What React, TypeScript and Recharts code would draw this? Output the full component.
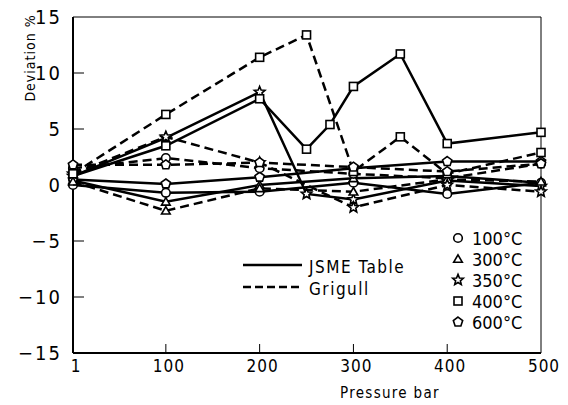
import React from 'react';
import {
  LineChart,
  Line,
  XAxis,
  YAxis,
  ReferenceLine,
  Customized,
} from 'recharts';

// pressure (bar) points per series
const P_STD = [1, 100, 200, 300, 400, 500];
const P_JSME_350 = [1, 100, 200, 250, 300, 400, 500];
const P_JSME_400 = [1, 100, 200, 250, 275, 300, 350, 400, 500];
const P_GRIG_400 = [1, 100, 200, 250, 300, 350, 400, 500];

// deviation % — JSME Table (solid)
const JSME_100 = [0.0, -0.7, -0.6, 0.2, -0.8, 0.2];
const JSME_300 = [0.4, -1.5, 0.0, 0.6, 0.8, 0.2];
const JSME_350 = [0.8, 4.2, 8.3, -0.8, -1.3, 0.4, -0.1];
const JSME_400 = [0.8, 3.5, 7.7, 3.2, 5.4, 8.8, 11.7, 3.7, 4.7];
const JSME_600 = [0.5, 0.1, 0.7, 1.5, 2.1, 2.1];

// deviation % — Grigull (dashed)
const GRIG_100 = [1.5, 2.4, 1.5, 1.0, 0.6, 1.9];
const GRIG_300 = [0.3, -2.3, -0.3, -0.6, 0.5, 0.3];
const GRIG_350 = [1.0, 4.3, 2.0, -2.0, 0.0, -0.6];
const GRIG_400 = [1.0, 6.3, 11.4, 13.4, 1.2, 4.3, 1.0, 2.9];
const GRIG_600 = [1.8, 1.8, 2.0, 1.6, 1.2, 1.9];

const X_TICKS = [1, 100, 200, 300, 400, 500];
const Y_TICKS = [-15, -10, -5, 0, 5, 10, 15];
const TEMPS = ['100°C', '300°C', '350°C', '400°C', '600°C'];
const KINDS = ['circle', 'triangle', 'star', 'square', 'pentagon'];

const FONT = "'Liberation Sans Narrow', 'DejaVu Sans Condensed', 'Roboto Condensed', Roboto, sans-serif";

const rows = (ps: number[], vs: number[]) => ps.map((p, i) => ({ p, v: vs[i] }));

const SERIES = [
  { id: 'j100', kind: 'circle', dashed: false, data: rows(P_STD, JSME_100) },
  { id: 'j300', kind: 'triangle', dashed: false, data: rows(P_STD, JSME_300) },
  { id: 'j350', kind: 'star', dashed: false, data: rows(P_JSME_350, JSME_350) },
  { id: 'j400', kind: 'square', dashed: false, data: rows(P_JSME_400, JSME_400) },
  { id: 'j600', kind: 'pentagon', dashed: false, data: rows(P_STD, JSME_600) },
  { id: 'g100', kind: 'circle', dashed: true, data: rows(P_STD, GRIG_100) },
  { id: 'g300', kind: 'triangle', dashed: true, data: rows(P_STD, GRIG_300) },
  { id: 'g350', kind: 'star', dashed: true, data: rows(P_STD, GRIG_350) },
  { id: 'g400', kind: 'square', dashed: true, data: rows(P_GRIG_400, GRIG_400) },
  { id: 'g600', kind: 'pentagon', dashed: true, data: rows(P_STD, GRIG_600) },
];

function polyPoints(cx: number, cy: number, n: number, r: number, inner?: number) {
  const pts: string[] = [];
  const count = inner ? n * 2 : n;
  for (let i = 0; i < count; i++) {
    const a = -Math.PI / 2 + (i * 2 * Math.PI) / count;
    const rr = inner && i % 2 === 1 ? inner : r;
    pts.push(`${cx + rr * Math.cos(a)},${cy + rr * Math.sin(a)}`);
  }
  return pts.join(' ');
}

function Marker({ kind, cx, cy }: { kind: string; cx: number; cy: number }) {
  const s = { fill: '#fff', stroke: '#000', strokeWidth: 1.6 };
  if (cx == null || cy == null) return null;
  switch (kind) {
    case 'circle':
      return <circle cx={cx} cy={cy} r={4.3} {...s} />;
    case 'triangle':
      return <polygon points={polyPoints(cx, cy + 0.8, 3, 5)} {...s} />;
    case 'star':
      return <polygon points={polyPoints(cx, cy, 5, 5.6, 2.5)} {...s} />;
    case 'square':
      return <rect x={cx - 4} y={cy - 4} width={8} height={8} {...s} />;
    default:
      return <polygon points={polyPoints(cx, cy, 5, 4.9)} {...s} />;
  }
}

const YTick = (props: any) => {
  const { x, y, payload } = props;
  const v = payload.value as number;
  const label = v < 0 ? `−${Math.abs(v)}` : `${v}`;
  return (
    <g>
      {Math.abs(v) !== 15 && <line x1={x} y1={y} x2={x + 11} y2={y} stroke="#000" strokeWidth={1} />}
      <text x={x - 11} y={y} dy={7} textAnchor="end" fontSize={20} fontFamily={FONT} letterSpacing={2} fill="#000">
        {label}
      </text>
    </g>
  );
};

const XTick = (props: any) => {
  const { x, y, payload } = props;
  const v = payload.value as number;
  return (
    <g>
      {v !== 1 && v !== 500 && <line x1={x} y1={y} x2={x} y2={y - 9} stroke="#000" strokeWidth={1} />}
      <text x={x + 3} y={y + 19} textAnchor="middle" fontSize={17} fontFamily={FONT} letterSpacing={1} fill="#000">
        {v}
      </text>
    </g>
  );
};

const Extras = () => (
  <g fontFamily={FONT} fill="#000">
    <text transform="translate(35,58) rotate(-90)" textAnchor="middle" fontSize={14} letterSpacing={1}>
      Deviation  %
    </text>
    <text x={340} y={398} fontSize={15} letterSpacing={1.3}>
      Pressure  bar
    </text>
    <line x1={243} y1={265} x2={302} y2={265} stroke="#000" strokeWidth={2.5} />
    <text x={309} y={273} fontSize={17} letterSpacing={1.5}>JSME Table</text>
    <line x1={243} y1={287} x2={302} y2={287} stroke="#000" strokeWidth={2.5} strokeDasharray="8 4" />
    <text x={309} y={295} fontSize={17} letterSpacing={1.5}>Grigull</text>
    {TEMPS.map((t, i) => (
      <g key={t}>
        <Marker kind={KINDS[i]} cx={458} cy={238 + i * 21} />
        <text x={472} y={245 + i * 21} fontSize={18}>{t}</text>
      </g>
    ))}
  </g>
);

export default function App() {
  return (
    <div style={{ position: 'absolute', left: 0, top: 0, width: 568, height: 405, background: '#fff' }}>
      <LineChart width={568} height={405} margin={{ top: 17, right: 27, bottom: 0, left: 0 }}>
        <XAxis
          type="number"
          dataKey="p"
          domain={[1, 500]}
          ticks={X_TICKS}
          allowDuplicatedCategory={false}
          height={52}
          tickSize={0}
          tickMargin={0}
          tick={<XTick />}
          axisLine={{ stroke: '#000', strokeWidth: 2 }}
          tickLine={false}
        />
        <YAxis
          type="number"
          domain={[-15, 15]}
          ticks={Y_TICKS}
          width={73}
          tickSize={0}
          tickMargin={0}
          tick={<YTick />}
          axisLine={{ stroke: '#000', strokeWidth: 2 }}
          tickLine={false}
        />
        <ReferenceLine y={15} stroke="#000" strokeWidth={1} />
        <ReferenceLine x={500} stroke="#000" strokeWidth={1} />
        {SERIES.map((s) => (
          <Line
            key={s.id}
            data={s.data}
            dataKey="v"
            type="linear"
            stroke="#000"
            strokeWidth={2.5}
            strokeDasharray={s.dashed ? '9 5' : undefined}
            isAnimationActive={false}
            dot={(p: any) => <Marker key={`${s.id}-${p.index}`} kind={s.kind} cx={p.cx} cy={p.cy} />}
            activeDot={false}
          />
        ))}
        <Customized component={Extras} />
      </LineChart>
    </div>
  );
}
